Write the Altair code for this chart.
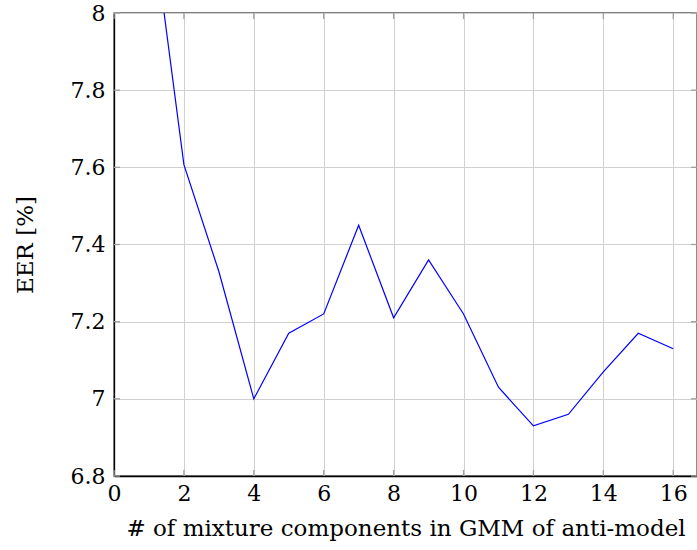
import altair as alt
import pandas as pd

components = [1, 2, 3, 4, 5, 6, 7, 8, 9, 10, 11, 12, 13, 14, 15, 16]
eer = [8.30, 7.607, 7.33, 7.00, 7.17, 7.22, 7.45, 7.21, 7.36, 7.22, 7.03, 6.93, 6.96, 7.07, 7.17, 7.13]

x_ticks = [0, 2, 4, 6, 8, 10, 12, 14, 16]
y_ticks = [6.8, 7.0, 7.2, 7.4, 7.6, 7.8, 8.0]

df = pd.DataFrame({"k": components, "eer": eer})
xt = pd.DataFrame({"t": x_ticks})
yt = pd.DataFrame({"t": y_ticks})

W, H = 583, 463
FONT = "DejaVu Serif"

xscale = alt.Scale(domain=[0, 16.68], nice=False, zero=False)
yscale = alt.Scale(domain=[6.8, 8.0], nice=False, zero=False)

line = alt.Chart(df).mark_line(color="#0000ff", strokeWidth=1.2, clip=True).encode(
    x=alt.X("k:Q", scale=xscale,
            axis=alt.Axis(values=x_ticks, title="# of mixture components in GMM of anti-model",
                          labelPadding=7, titleY=59, titleBaseline="alphabetic")),
    y=alt.Y("eer:Q", scale=yscale,
            axis=alt.Axis(values=y_ticks, title="EER [%]", format="~g",
                          labelPadding=9,
                          titleX=-82, titleY=H / 2,
                          titleAlign="center", titleBaseline="alphabetic", titleAngle=-90)),
)

tick_color = "#a0a0a0"
xb = alt.Chart(xt).mark_rule(color=tick_color, strokeWidth=1.3).encode(
    x=alt.X("t:Q", scale=xscale), y=alt.value(H), y2=alt.value(H - 6))
xtp = alt.Chart(xt).mark_rule(color=tick_color, strokeWidth=1.3).encode(
    x=alt.X("t:Q", scale=xscale), y=alt.value(0), y2=alt.value(6))
yl = alt.Chart(yt).mark_rule(color=tick_color, strokeWidth=1.3).encode(
    y=alt.Y("t:Q", scale=yscale), x=alt.value(0), x2=alt.value(6))
yr = alt.Chart(yt).mark_rule(color=tick_color, strokeWidth=1.3).encode(
    y=alt.Y("t:Q", scale=yscale), x=alt.value(W), x2=alt.value(W - 6))

chart = alt.layer(xb, xtp, yl, yr, line).properties(
    width=W, height=H,
    autosize=alt.AutoSizeParams(type="none"),
    padding={"left": 114, "top": 13, "right": 0, "bottom": 74},
).configure(background="white", font=FONT).configure_view(
    stroke="black", strokeWidth=1.3
).configure_axis(
    grid=True, gridColor="#d0d0d0", gridWidth=1, tickSize=0,
    domainColor="black", domainWidth=1.3,
    labelFont=FONT, labelFontSize=22, labelColor="black", labelFlush=False,
    titleFont=FONT, titleFontSize=23, titleFontWeight="normal", titleColor="black",
)

chart.save("out.html", embed_options={"renderer": "svg", "actions": False})
